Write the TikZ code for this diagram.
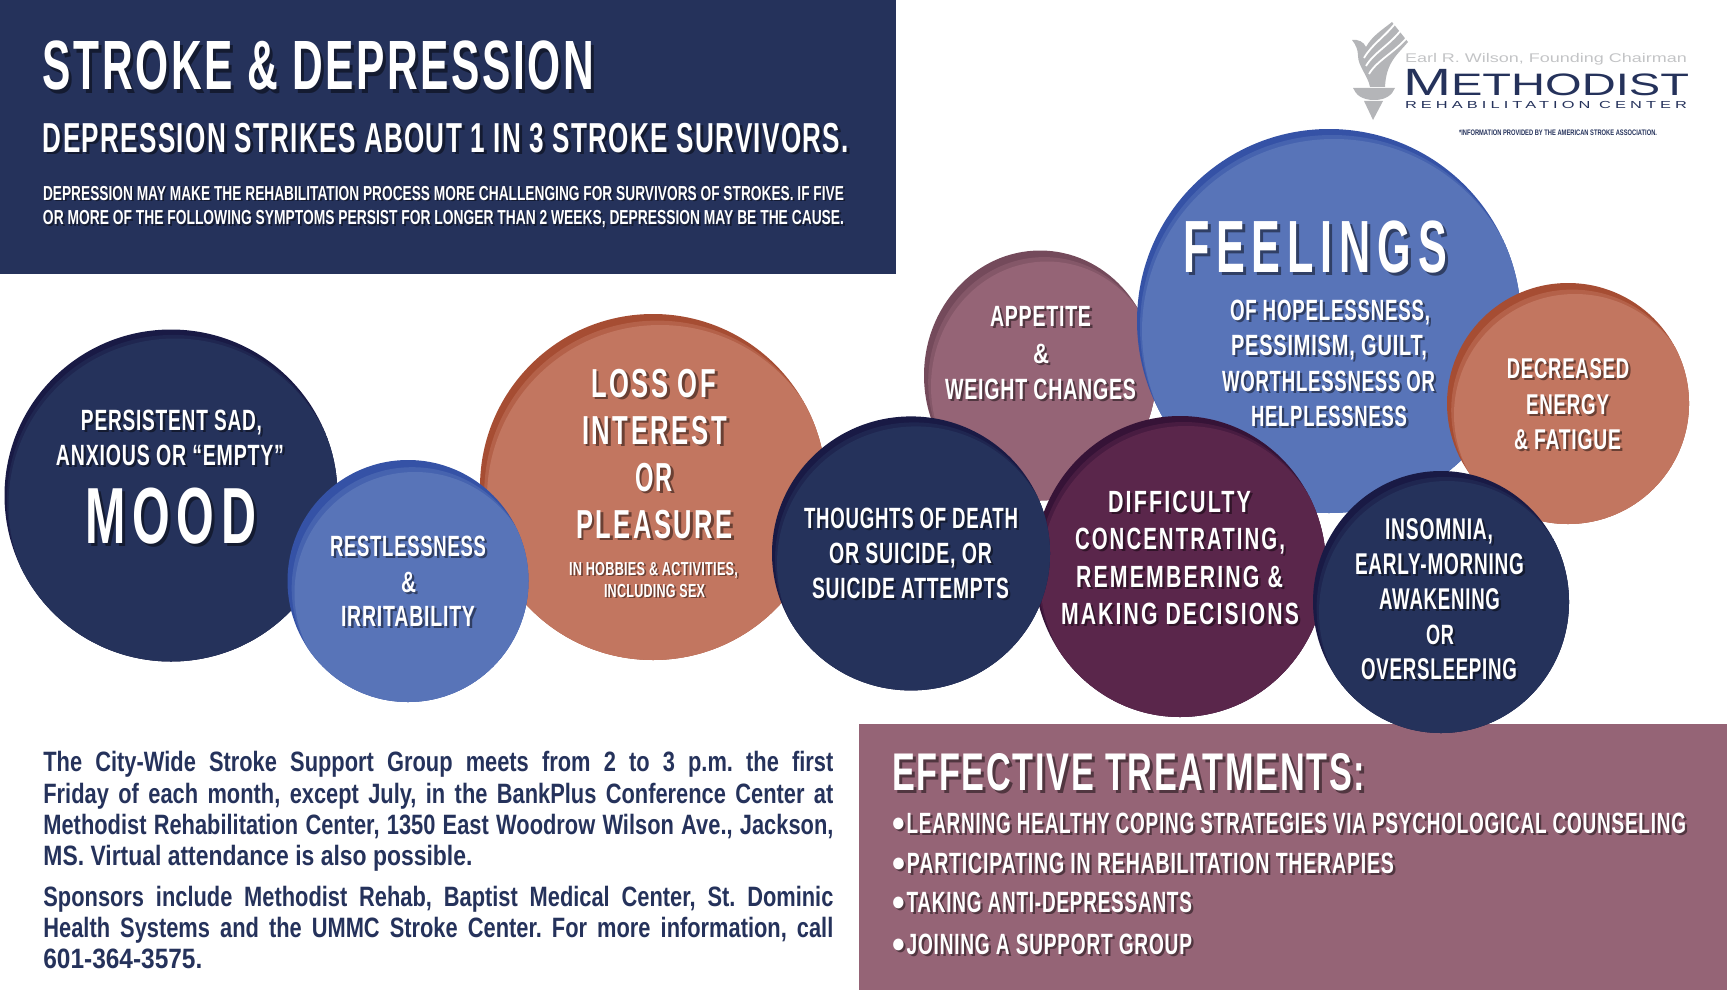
\documentclass[tikz,border=0pt]{standalone}
\usepackage{fontspec}
\usepackage{graphicx}
\usetikzlibrary{shapes.geometric}
\setmainfont{Liberation Sans}
\newfontfamily\bodyfont[FakeStretch=0.78]{Liberation Sans Bold}
\definecolor{navy}{HTML}{25325B}
\definecolor{navyrim}{HTML}{191A45}
\definecolor{blueb}{HTML}{5874B8}
\definecolor{bluerim}{HTML}{3552A6}
\definecolor{salmon}{HTML}{C27660}
\definecolor{salmonrim}{HTML}{A64D33}
\definecolor{mauve}{HTML}{956476}
\definecolor{mauverim}{HTML}{744A5B}
\definecolor{plum}{HTML}{5A264B}
\definecolor{plumrim}{HTML}{361337}
\definecolor{logogray}{HTML}{B4B5B8}
\tikzset{
  blob/.style n args={6}{ellipse, inner sep=0, minimum width=#1pt, minimum height=#2pt, fill=#3,
    path picture={
      \fill[#4,opacity=.5] ([shift={(#5*.6,#6*.6)}]path picture bounding box.center) ellipse (#1 and #2);
      \fill[#4] ([shift={(#5,#6)}]path picture bounding box.center) ellipse (#1 and #2);
    }},
  lab/.style={anchor=base, inner sep=0, text=white, font=\bfseries},
  labshadow/.style={anchor=base, inner sep=0, text=black, text opacity=.45, font=\bfseries},
  body/.style={anchor=base west, inner sep=0, text=navy, font=\bodyfont\fontsize{14pt}{14pt}\selectfont\frenchspacing},
  logotext/.style={anchor=base, inner sep=0, text=navy},
}
\newcommand\fitlab[4]{\resizebox{\dimexpr #2pt/2\relax}{\height}{\fontsize{\the\dimexpr #3pt*698/1000\relax}{20pt}\selectfont\addfontfeature{LetterSpace=#1}#4}}
\newcommand\lab[7][4]{%
  \pgfmathsetmacro\off{min(#6/14+.8,3)}
  \node[labshadow] (#2_s) at (#3+\off,#4+\off) {\fitlab{#1}{#5}{#6}{#7}};
  \node[lab] (#2) at (#3,#4) {\fitlab{#1}{#5}{#6}{#7}};
}
\newcommand\jline[3]{\node[body] (#1) at (43,#2) {\spaceskip=.14em plus 2em\makebox[395pt][s]{#3}};}
\newcommand\bul{\raisebox{-.15em}{\scalebox{1.9}[1.4]{•}}\kern.1em}
\begin{document}
\begin{tikzpicture}[x=0.5pt,y=-0.5pt]
  \useasboundingbox (0,0) rectangle (1727,990);
  \fill[navy] (0,0) rectangle (896,274);

  \lab[6]{head_0}{318.5}{90}{551}{50}{STROKE \& DEPRESSION}
  \lab[5]{head_1}{446}{152}{806}{30}{DEPRESSION STRIKES ABOUT 1 IN 3 STROKE SURVIVORS.}
  \lab[0]{head_2}{443.5}{200}{801}{14.5}{DEPRESSION MAY MAKE THE REHABILITATION PROCESS MORE CHALLENGING FOR SURVIVORS OF STROKES. IF FIVE}
  \lab[0]{head_3}{443.5}{224.5}{801}{14.5}{OR MORE OF THE FOLLOWING SYMPTOMS PERSIST FOR LONGER THAN 2 WEEKS, DEPRESSION MAY BE THE CAUSE.}

  \path[fill=logogray] (1352,40) .. controls (1358,39) and (1364,42) .. (1366,47)
    .. controls (1372,36) and (1382,30) .. (1392,22)
    -- (1408,42)
    .. controls (1398,54) and (1386,62) .. (1385,87)
    -- (1370,87) .. controls (1368,76) and (1358,66) .. (1358,56)
    .. controls (1358,50) and (1356,45) .. (1352,40) -- cycle;
  \draw[white,line width=.9pt] (1364,58) .. controls (1372,44) and (1386,36) .. (1397,21);
  \draw[white,line width=.9pt] (1366,66) .. controls (1374,52) and (1392,44) .. (1404,26);
  \draw[white,line width=.9pt] (1369,74) .. controls (1377,60) and (1396,52) .. (1409,35);
  \fill[logogray] (1353,88) -- (1395,88) .. controls (1392,95) and (1386,100) .. (1374,100)
    .. controls (1362,100) and (1356,95) .. (1353,88) -- cycle;
  \fill[logogray] (1364,101) -- (1383,101) -- (1373,120) -- cycle;

  \node[logotext,text=logogray!80] (logo_0) at (1546,63) {\resizebox{141pt}{\height}{\fontsize{6.3pt}{8pt}\selectfont Earl R. Wilson, Founding Chairman}};
  \node[logotext] (logo_1) at (1546,95.7) {\resizebox{143pt}{\height}{\fontsize{19pt}{20pt}\selectfont M\fontsize{15.5pt}{20pt}\selectfont ETHODIST}};
  \node[logotext] (logo_2) at (1546,109) {\resizebox{141pt}{\height}{\fontsize{5.1pt}{8pt}\selectfont\addfontfeature{LetterSpace=25}REHABILITATION CENTER}};
  \node[logotext] (logo_3) at (1558,135.7) {\resizebox{99pt}{\height}{\fontsize{4pt}{6pt}\selectfont\bfseries *INFORMATION PROVIDED BY THE AMERICAN STROKE ASSOCIATION.}};

  \fill[mauve] (859,724) rectangle (1727,990);

  \node[blob={166.5}{166}{navyrim}{navy}{4}{9}] (mood) at (171,495.5) {};
  \node[blob={173}{173}{salmonrim}{salmon}{7}{11}] (loss) at (653,487) {};
  \node[blob={120.5}{121}{bluerim}{blueb}{7}{12}] (restless) at (408,581) {};
  \node[blob={116}{125}{mauverim}{mauve}{7}{11}] (appetite) at (1040,375.5) {};
  \node[blob={192}{192}{bluerim}{blueb}{5}{10}] (feelings) at (1329,321) {};
  \node[blob={121}{120.5}{salmonrim}{salmon}{7}{11}] (energy) at (1568,403.5) {};
  \node[blob={146}{150.5}{plumrim}{plum}{6}{10}] (difficulty) at (1180,566.5) {};
  \node[blob={139}{137}{navyrim}{navy}{5}{10}] (thoughts) at (911,553.4) {};
  \node[blob={128}{131}{navyrim}{navy}{6}{10}] (insomnia) at (1441,602) {};

  \lab{mood_0}{171.5}{430}{181}{21}{PERSISTENT SAD,}
  \lab{mood_1}{170}{465}{228}{21}{ANXIOUS OR “EMPTY”}
  \lab[14]{mood_2}{170.5}{543}{171}{57}{MOOD}

  \lab{restless_0}{408}{556}{156}{21}{RESTLESSNESS}
  \lab{restless_1}{408.5}{592}{15}{21}{\&}
  \lab{restless_2}{408}{626}{134}{21}{IRRITABILITY}

  \lab[10]{loss_0}{653.5}{397}{125}{29}{LOSS OF}
  \lab[10]{loss_1}{654.5}{444}{145}{29}{INTEREST}
  \lab[10]{loss_2}{654}{491}{38}{29}{OR}
  \lab[10]{loss_3}{654.5}{538}{157}{29}{PLEASURE}
  \lab[2]{loss_4}{653.5}{575}{169}{13.5}{IN HOBBIES \& ACTIVITIES,}
  \lab[2]{loss_5}{654.5}{597}{101}{13.5}{INCLUDING SEX}

  \lab{thoughts_0}{911}{528}{214}{21}{THOUGHTS OF DEATH}
  \lab{thoughts_1}{910.5}{563}{163}{21}{OR SUICIDE, OR}
  \lab{thoughts_2}{910.5}{598}{197}{21}{SUICIDE ATTEMPTS}

  \lab{appetite_0}{1040.5}{326}{101}{21}{APPETITE}
  \lab{appetite_1}{1041}{363}{16}{20}{\&}
  \lab{appetite_2}{1040.5}{399}{191}{21}{WEIGHT CHANGES}

  \lab[16]{feelings_0}{1315}{272}{264}{53}{FEELINGS}
  \lab{feelings_1}{1330}{320}{200}{21}{OF HOPELESSNESS,}
  \lab{feelings_2}{1329}{355}{196}{21}{PESSIMISM, GUILT,}
  \lab{feelings_3}{1328.5}{391}{213}{21}{WORTHLESSNESS OR}
  \lab{feelings_4}{1329}{426.5}{156}{21}{HELPLESSNESS}

  \lab{energy_0}{1568}{378}{122.5}{20.5}{DECREASED}
  \lab{energy_1}{1567.5}{414}{83}{20.5}{ENERGY}
  \lab{energy_2}{1567.5}{449.5}{107}{20.5}{\& FATIGUE}

  \lab[10]{difficulty_0}{1179.5}{512.6}{143}{22}{DIFFICULTY}
  \lab[10]{difficulty_1}{1180}{549}{210}{22}{CONCENTRATING,}
  \lab[10]{difficulty_2}{1179.5}{587}{207}{22}{REMEMBERING \&}
  \lab[10]{difficulty_3}{1180}{624}{238}{22}{MAKING DECISIONS}

  \lab{insomnia_0}{1439}{539}{108}{21.5}{INSOMNIA,}
  \lab{insomnia_1}{1439.5}{574}{169}{21.5}{EARLY-MORNING}
  \lab{insomnia_2}{1439.5}{609}{121}{21.5}{AWAKENING}
  \lab{insomnia_3}{1440}{644}{28}{20}{OR}
  \lab{insomnia_4}{1439}{679}{156}{21.5}{OVERSLEEPING}

  \jline{note_0}{771.7}{The City-Wide Stroke Support Group meets from 2 to 3 p.m. the first}
  \jline{note_1}{803}{Friday of each month, except July, in the BankPlus Conference Center at}
  \jline{note_2}{834}{Methodist Rehabilitation Center, 1350 East Woodrow Wilson Ave., Jackson,}
  \node[body] (note_3) at (43,865) {\resizebox{214.5pt}{\height}{MS. Virtual attendance is also possible.}};
  \jline{note_4}{906}{Sponsors include Methodist Rehab, Baptist Medical Center, St. Dominic}
  \jline{note_5}{937}{Health Systems and the UMMC Stroke Center. For more information, call}
  \node[body] (note_6) at (43,968) {\resizebox{79.5pt}{\height}{601-364-3575.}};

  \lab[5]{treat_0}{1128.5}{790}{473}{38}{EFFECTIVE TREATMENTS:}
  \lab{treat_1}{1289}{833}{794}{21}{\bul LEARNING HEALTHY COPING STRATEGIES VIA PSYCHOLOGICAL COUNSELING}
  \lab{treat_2}{1143}{873}{502}{21}{\bul PARTICIPATING IN REHABILITATION THERAPIES}
  \lab{treat_3}{1042}{912}{300}{21}{\bul TAKING ANTI-DEPRESSANTS}
  \lab{treat_4}{1042}{954}{300}{21}{\bul JOINING A SUPPORT GROUP}
\end{tikzpicture}
\end{document}
